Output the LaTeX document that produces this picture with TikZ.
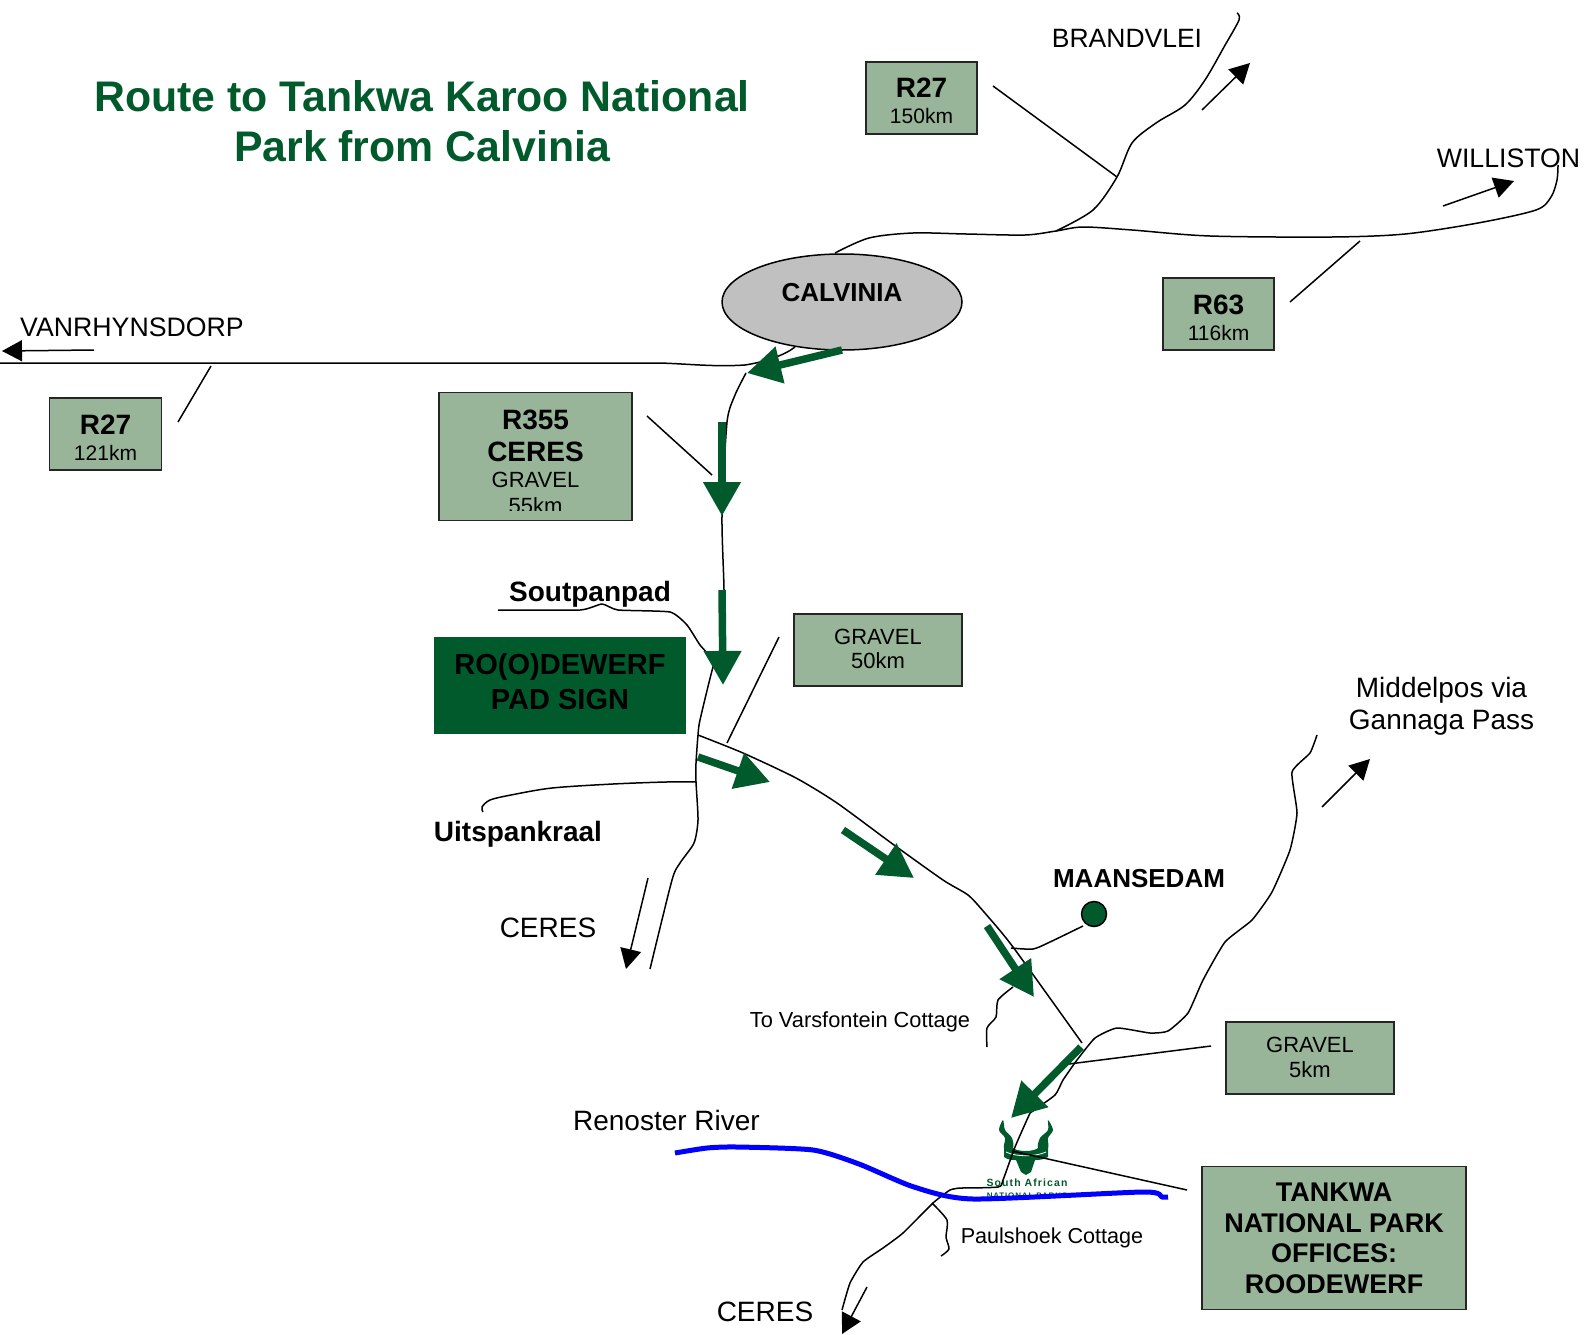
\documentclass[tikz,border=0pt]{standalone}
\usepackage{fontspec}
\setmainfont{Liberation Sans}
\newfontfamily\logofont[LetterSpace=10.5,Ligatures=NoCommon]{Liberation Sans Bold}
\usetikzlibrary{arrows.meta,shapes.geometric}
\definecolor{parkgreen}{HTML}{005A2B}
\definecolor{boxgreen}{HTML}{99B599}
\definecolor{ellgrey}{HTML}{C0C0C0}
\newcommand{\fs}[2]{\fontsize{#1}{#2}\selectfont}
\tikzset{
  road/.style={draw=black,line width=1.5pt,line join=round},
  leader/.style={draw=black,line width=1.5pt},
  river/.style={draw=blue,line width=5pt,line join=round},
  dirarrow/.style={draw=black,line width=1.5pt,-{Triangle[length=20pt,width=21pt]}},
  routearrow/.style={draw=parkgreen,fill=parkgreen,line width=7.5pt,-{Triangle[length=34pt,width=36pt]}},
  signbox/.style={draw=black!85,line width=1.5pt,fill=boxgreen,align=center,inner sep=0pt,text=black},
  place/.style={align=center,inner sep=0pt,text=black},
}
\begin{document}
\begin{tikzpicture}[x=1pt,y=-1pt]
\useasboundingbox (0,0) rectangle (1584,1335);

% title
\node[place,text=parkgreen,font=\bfseries\fs{42.8}{50}] (title) at (422,121) {Route to Tankwa Karoo National\\Park from Calvinia};

% coordinates for the arrows and leaders
\coordinate (calS) at (842,350); \coordinate (calT) at (747,373);
\coordinate (a1s) at (722,422); \coordinate (a1t) at (722,516);
\coordinate (a2s) at (722,590); \coordinate (a2t) at (723,685);
\coordinate (a3s) at (698,757); \coordinate (a3t) at (770,782);
\coordinate (a4s) at (843,830); \coordinate (a4t) at (914,878);
\coordinate (a5s) at (987,926); \coordinate (a5t) at (1034,997);
\coordinate (a6s) at (1081,1047); \coordinate (a6t) at (1011,1118);

% roads
\draw[road] plot[smooth,tension=.5] coordinates {(835,253)(869,238)(913,233)(966,234)(1025,235)(1056,231)(1083,227)(1132,230)(1210,236)(1332,237)(1405,234)(1478,223)(1536,210)(1551,197)(1557,180)(1558,165)};
\draw[road] plot[smooth,tension=.5] coordinates {(1056,231)(1093,210)(1117,177)(1132,143)(1156,123)(1185,105)(1205,80)(1224,47)(1239,20)(1237,13)};
\draw[road] (0,363) -- (660,363) .. controls (690,364) and (715,367) .. (745,365) .. controls (765,362) and (785,355) .. (795,347);
\draw[road] plot[smooth,tension=.4] coordinates {(746,373)(735,395)(727,422)(722,516)(724,590)(723,640)(713,667)(700,720)(698,735)(696,763)(696,782)(698,820)(694,843)(680,863)(672,880)(650,969)};
\draw[road] plot[smooth,tension=.3] coordinates {(498,610)(580,610)(602,604)(618,610)(670,612)(687,625)(700,645)(712,658)};
\draw[road] plot[smooth,tension=.4] coordinates {(698,735)(743,753)(796,778)(837,803)(894,845)(943,880)(968,895)(984,912)(1013,947)(1082,1043)};
\draw[road] plot[smooth,tension=.5] coordinates {(696,782)(666,782)(613,784)(552,788)(511,795)(490,800)(482,807)(483,812)};
\draw[road] plot[smooth,tension=.4] coordinates {(1011,948)(1033,949)(1050,942)(1083,926)};
\draw[road] plot[smooth,tension=.4] coordinates {(1013,987)(998,1000)(996,1017)(987,1028)(987,1047)};
\draw[road] plot[smooth,tension=.3] coordinates {(1317,735)(1310,753)(1292,772)(1297,813)(1290,850)(1272,892)(1252,920)(1225,942)(1203,980)(1188,1013)(1168,1031)(1150,1033)(1117,1028)(1095,1038)(1077,1060)(1063,1080)(1055,1095)(1030,1113)};
\draw[road] plot[smooth,tension=.3] coordinates {(960,1188)(950,1190)(933,1203)(903,1233)(883,1248)(863,1262)(850,1283)(842,1310)};
\draw[road] plot[smooth,tension=.4] coordinates {(932,1203)(947,1220)(946,1237)(949,1249)(941,1256)};

% logo
\fill[parkgreen] plot[smooth cycle,tension=.5] coordinates {(1003,1120)(999,1130)(1005,1138)(1004,1148)(1013,1148)(1012,1138)(1005,1130)};
\fill[parkgreen] plot[smooth cycle,tension=.5] coordinates {(1048,1120)(1053,1130)(1048,1138)(1048,1148)(1038,1148)(1040,1138)(1048,1130)};
\fill[parkgreen] (1004,1148) -- (1013,1148) .. controls (1018,1152) and (1033,1152) .. (1038,1148) -- (1048,1148) -- (1048,1157) .. controls (1043,1160) and (1038,1160) .. (1035,1160) -- (1031,1172) -- (1026,1175) -- (1021,1172) -- (1016,1160) .. controls (1012,1160) and (1008,1160) .. (1004,1157) -- cycle;
\draw[white,line width=.8pt] (1006,1152) .. controls (1016,1157) and (1035,1157) .. (1046,1152);
\node[text=parkgreen,font=\logofont\fs{10.5}{12},inner sep=0pt,anchor=base] (logotext) at (1027,1186) {South African};
\begin{scope}
\clip (980,1191) rectangle (1075,1197);
\node[text=parkgreen,font=\logofont\fs{8}{9},inner sep=0pt,anchor=base] (logotext2) at (1027,1198) {NATIONAL PARKS};
\end{scope}
\draw[road] plot[smooth,tension=.4] coordinates {(1030,1113)(1015,1147)(1003,1180)(998,1187)(960,1188)};

% river
\draw[river] plot[smooth,tension=.4] coordinates {(675,1153)(707,1148)(737,1147)(813,1150)(859,1164)(914,1187)(973,1199)(1143,1192)(1162,1197)(1168,1197)};

% black direction arrows
\coordinate (d1s) at (1202,110); \coordinate (d1t) at (1250,63);
\coordinate (d2s) at (1443,206); \coordinate (d2t) at (1514,181);
\coordinate (d3s) at (94,350); \coordinate (d3t) at (2,351);
\coordinate (d4s) at (648,878); \coordinate (d4t) at (626,969);
\coordinate (d5s) at (1322,807); \coordinate (d5t) at (1370,759);
\coordinate (d6s) at (867,1287); \coordinate (d6t) at (842,1334);
\draw[dirarrow] (d1s) -- (d1t);
\draw[dirarrow] (d2s) -- (d2t);
\draw[dirarrow] (d3s) -- (d3t);
\draw[dirarrow] (d4s) -- (d4t);
\draw[dirarrow] (d5s) -- (d5t);
\draw[dirarrow] (d6s) -- (d6t);

% leaders
\coordinate (l1a) at (993,86); \coordinate (l1b) at (1117,177);
\coordinate (l2a) at (1290,302); \coordinate (l2b) at (1360,241);
\coordinate (l3a) at (178,422); \coordinate (l3b) at (211,366);
\coordinate (l4a) at (647,416); \coordinate (l4b) at (712,475);
\coordinate (l5a) at (727,743); \coordinate (l5b) at (779,637);
\coordinate (l6a) at (1061,1065); \coordinate (l6b) at (1211,1046);
\coordinate (l7a) at (1012,1151); \coordinate (l7b) at (1187,1190);
\draw[leader] (l1a)--(l1b);
\draw[leader] (l2a)--(l2b);
\draw[leader] (l3a)--(l3b);
\draw[leader] (l4a)--(l4b);
\draw[leader] (l5a)--(l5b);
\draw[leader] (l6a)--(l6b);
\draw[leader] (l7a)--(l7b);

% Calvinia
\node[ellipse,draw=black,line width=1.5pt,fill=ellgrey,minimum width=240pt,minimum height=96pt,inner sep=0pt] (calvinia) at (842,302) {};
\node[place,font=\bfseries\fs{26}{30},anchor=base] (calvtxt) at (842,301) {CALVINIA};

% green route arrows
\draw[routearrow] (calS) -- (calT);
\draw[routearrow] (a1s) -- (a1t);
\draw[routearrow] (a2s) -- (a2t);
\draw[routearrow] (a3s) -- (a3t);
\draw[routearrow] (a4s) -- (a4t);
\draw[routearrow] (a5s) -- (a5t);
\draw[routearrow] (a6s) -- (a6t);

% sign boxes
\node[signbox,minimum width=111pt,minimum height=72pt] (r27a) at (921.5,98) {};
\node[place,font=\bfseries\fs{28}{30},anchor=base] (r27at) at (921.5,98) {R27};
\node[place,font=\fs{21}{24},anchor=base] (r27ak) at (921.5,124) {150km};

\node[signbox,minimum width=111pt,minimum height=72pt] (r63) at (1218.5,314) {};
\node[place,font=\bfseries\fs{28}{30},anchor=base] (r63t) at (1218.5,314) {R63};
\node[place,font=\fs{21}{24},anchor=base] (r63k) at (1218.5,340) {116km};

\node[signbox,minimum width=112pt,minimum height=72pt] (r27b) at (105.5,434) {};
\node[place,font=\bfseries\fs{28}{30},anchor=base] (r27bt) at (105.5,434) {R27};
\node[place,font=\fs{21}{24},anchor=base] (r27bk) at (105.5,460) {121km};

\node[signbox,minimum width=193pt,minimum height=128pt] (r355) at (535.5,456.5) {};
\node[place,font=\bfseries\fs{28}{31},anchor=base] (r355a) at (535.5,429) {R355};
\node[place,font=\bfseries\fs{28}{31},anchor=base] (r355b) at (535.5,461) {CERES};
\node[place,font=\fs{22}{25},anchor=base] (r355c) at (535.5,487) {GRAVEL};
\begin{scope}
\clip (500,490) rectangle (580,510);
\node[place,font=\fs{22}{25},anchor=base] (r355d) at (535.5,513) {55km};
\end{scope}

\node[fill=parkgreen,minimum width=252pt,minimum height=97pt,inner sep=0pt] (pad) at (560,685.5) {};
\node[place,font=\bfseries\fs{29}{34},anchor=base] (pada) at (560,674) {RO(O)DEWERF};
\node[place,font=\bfseries\fs{29}{34},anchor=base] (padb) at (560,709) {PAD SIGN};

\node[signbox,minimum width=168pt,minimum height=72pt] (g50) at (878,650) {};
\node[place,font=\fs{22}{25},anchor=base] (g50a) at (878,644) {GRAVEL};
\node[place,font=\fs{22}{25},anchor=base] (g50b) at (878,668) {50km};

\node[signbox,minimum width=168pt,minimum height=72pt] (g5) at (1310,1058) {};
\node[place,font=\fs{22}{25},anchor=base] (g5a) at (1310,1052) {GRAVEL};
\node[place,font=\fs{22}{25},anchor=base] (g5b) at (1310,1077) {5km};

\node[signbox,minimum width=264pt,minimum height=143pt] (tankwa) at (1334,1238) {};
\node[place,font=\bfseries\fs{27}{30},anchor=base] (t1) at (1334,1201) {TANKWA};
\node[place,font=\bfseries\fs{27}{30},anchor=base] (t2) at (1334,1232) {NATIONAL PARK};
\node[place,font=\bfseries\fs{27}{30},anchor=base] (t3) at (1334,1262) {OFFICES:};
\node[place,font=\bfseries\fs{27}{30},anchor=base] (t4) at (1334,1293) {ROODEWERF};

% labels
\node[place,font=\fs{26.5}{30},anchor=base] (brand) at (1127,48) {BRANDVLEI};
\node[place,font=\fs{26.7}{30},anchor=base] (will) at (1508.5,167) {WILLISTON};
\node[place,font=\fs{26.7}{30},anchor=base] (vanr) at (132,336) {VANRHYNSDORP};
\node[place,font=\bfseries\fs{28}{30},anchor=base] (sout) at (590,601) {Soutpanpad};
\node[place,font=\bfseries\fs{28}{30},anchor=base] (uits) at (518,841) {Uitspankraal};
\node[place,font=\fs{28}{30},anchor=base] (ceres1) at (548,937) {CERES};
\node[place,font=\fs{28}{30},anchor=base] (ceres2) at (765,1321) {CERES};
\node[place,font=\bfseries\fs{26}{30},anchor=base] (maan) at (1139,887) {MAANSEDAM};
\node[circle,draw=black,line width=1.5pt,fill=parkgreen,minimum size=25pt,inner sep=0pt] (dam) at (1094,914) {};
\node[place,font=\fs{21.8}{25},anchor=base] (vars) at (860,1027) {To Varsfontein Cottage};
\node[place,font=\fs{21.6}{25},anchor=base] (paul) at (1052,1243) {Paulshoek Cottage};
\node[place,font=\fs{28}{30},anchor=base] (reno) at (666.5,1130) {Renoster River};
\node[place,font=\fs{28}{32.5}] (midd) at (1441.5,706.5) {Middelpos via\\Gannaga Pass};
\end{tikzpicture}
\end{document}
